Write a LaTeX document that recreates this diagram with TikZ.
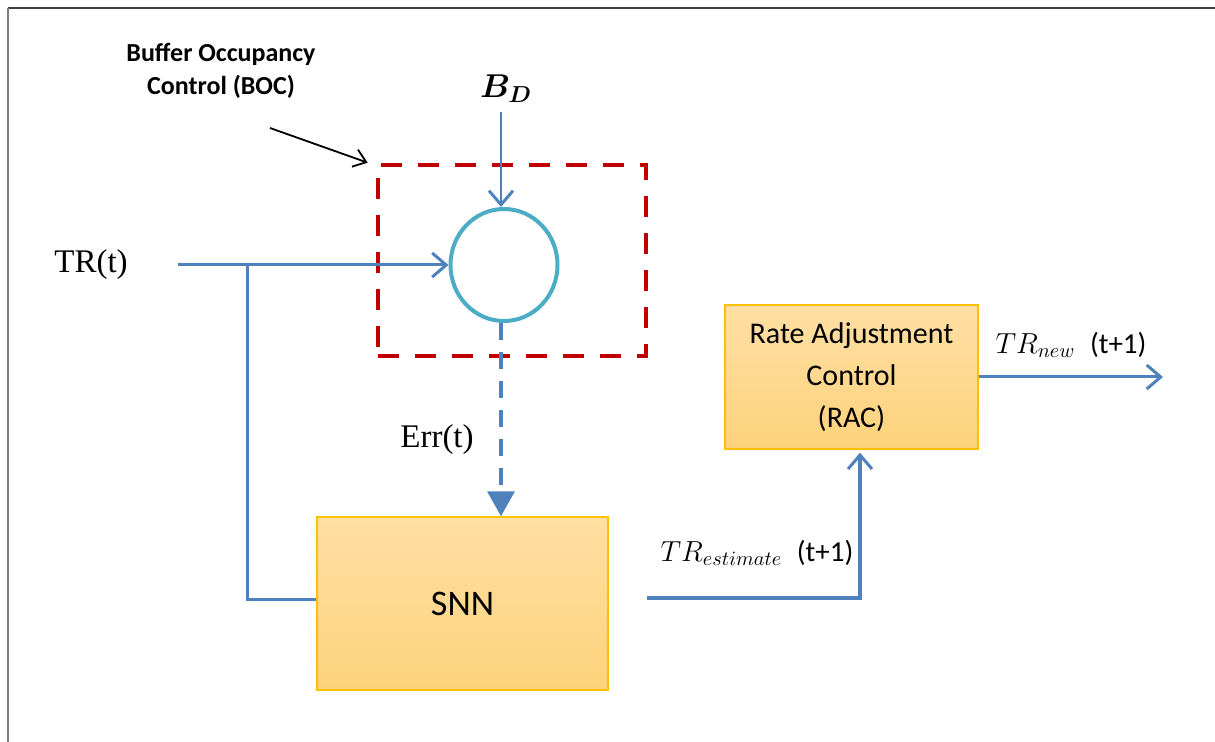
\documentclass[tikz,border=0pt]{standalone}
\usepackage{fix-cm}
\usepackage{amsmath}
\usepackage{fontspec}
\setmainfont{Liberation Serif}
\newfontfamily\calibri{Carlito}
\usepackage{tikz}
\usetikzlibrary{arrows.meta,shapes.geometric}

\definecolor{linkblue}{HTML}{4F81BD}
\definecolor{ringcyan}{HTML}{4BACC6}
\definecolor{bocred}{HTML}{C00000}
\definecolor{boxedge}{HTML}{FFC000}
\definecolor{boxtop}{HTML}{FFDFA3}
\definecolor{boxbottom}{HTML}{FDD27C}

\begin{document}
\begin{tikzpicture}[
			x=0.5pt, y=-0.5pt,
			line join=miter,
			flow/.style={draw=linkblue, line width=1.5pt},
			openarrow/.style={-{Straight Barb[length=7pt,width=12pt,line width=1.5pt]}},
			block/.style={draw=boxedge, line width=0.7pt, top color=boxtop, bottom color=boxbottom,
				align=center, inner sep=0pt, font=\calibri},
			bocbox/.style={draw=bocred, line width=2.3pt, dash pattern=on 10.5pt off 8pt,
				minimum width=134pt, minimum height=95.5pt, inner sep=0pt},
			mathlabel/.style={font=\fontsize{14.5}{17}\selectfont, inner sep=0pt}
			]
			\useasboundingbox (0,0) rectangle (1215,742);
			
			% Frame
			\draw[line width=1pt, color=black!75] (8,8) -- (1215,8);
			\draw[line width=1pt, color=black!50] (8,8) -- (8,742);
			
			% Buffer occupancy control
			\node[font=\calibri\bfseries\fontsize{13}{16.5}\selectfont, align=center] (boclabel) at (221,71)
			{Buffer Occupancy\\Control (BOC)};
			\node[bocbox] (boc) at (512,260.5) {};
			\node[draw=ringcyan, line width=2pt, ellipse, minimum width=53.5pt, minimum height=56pt,
			inner sep=0pt] (summer) at (504,265) {};
			\coordinate (bocfrom) at (270,128);
			\draw[line width=0.9pt, -{Straight Barb[length=6pt,width=9pt,line width=0.9pt]}]
			(bocfrom) -- ([xshift=-4pt]boc.north west);
			
			% Inputs
			\node[font=\fontsize{16.5}{19}\selectfont, inner sep=0pt] (bdlabel) at (506,89) {$\boldsymbol{B_D}$};
			\coordinate (bdtop) at (501,112);
			\draw[flow, line width=1.2pt, openarrow] (bdtop) -- (summer.north -| bdtop);
			
			\node[font=\fontsize{16.5}{19}\selectfont, inner sep=0pt] (trlabel) at (91,265) {TR(t)};
			\coordinate (trstart) at (178,265);
			\coordinate (split) at (247,265);
			\draw[flow, openarrow] (trstart) -- (summer.west);
			
			% Blocks
			\node[block, minimum width=145.5pt, minimum height=86.5pt, font=\calibri\fontsize{18}{21}\selectfont]
			(snn) at (462.5,603.5) {SNN};
			\node[block, minimum width=126.5pt, minimum height=72pt, font=\calibri\fontsize{15}{21}\selectfont]
			(rac) at (851.5,377) {Rate Adjustment\\Control\\(RAC)};
			
			% Error path
			\draw[flow, line width=1.75pt, dash pattern=on 8.5pt off 6pt, -{Triangle[length=12.5pt,width=13.5pt]}]
			(summer.south -| bdtop) -- (snn.north -| bdtop);
			\node[font=\fontsize{16.5}{19}\selectfont, inner sep=0pt] (errlabel) at (437,440) {Err(t)};
			
			% Feedback of TR(t) into SNN
			\draw[flow] (split) |- ([yshift=2pt]snn.west);
			
			% SNN to RAC
			\coordinate (snnout) at (647,598);
			\draw[flow, line width=2pt, openarrow] (snnout) -| ([xshift=4.25pt, yshift=-1.5pt]rac.south);
			\node[mathlabel] (estlabel) at (757,553) {$TR_{estimate}$\enspace{\calibri (t+1)}};
			
			% Output
			\coordinate (outend) at (1163,377);
			\draw[flow, openarrow] (rac.east) -- (outend);
			\node[mathlabel] (newlabel) at (1071,345) {$TR_{new}$\enspace{\calibri (t+1)}};
		\end{tikzpicture}
\end{document}
